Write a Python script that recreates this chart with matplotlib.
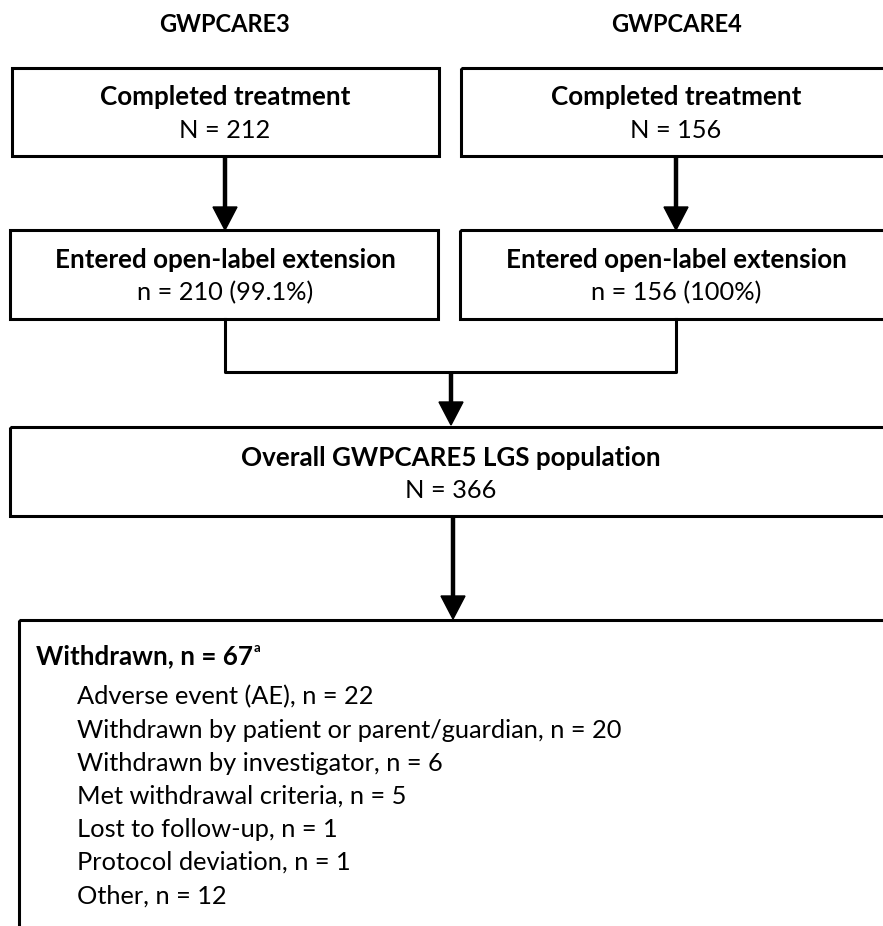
import matplotlib
matplotlib.use("Agg")
import matplotlib.pyplot as plt
from matplotlib.patches import Rectangle, Polygon

# ---- data ----
study_names = ["GWPCARE3", "GWPCARE4"]
completed_n = [212, 156]
entered_n = [210, 156]
entered_pct = ["99.1%", "100%"]
overall_label = "Overall GWPCARE5 LGS population"
overall_n = 366
withdrawn_total = 67
reasons = ["Adverse event (AE)", "Withdrawn by patient or parent/guardian",
           "Withdrawn by investigator", "Met withdrawal criteria",
           "Lost to follow-up", "Protocol deviation", "Other"]
reason_n = [22, 20, 6, 5, 1, 1, 12]

W, H = 883, 926
fig = plt.figure(figsize=(W / 100, H / 100), dpi=100)
ax = fig.add_axes([0, 0, 1, 1])
ax.set_xlim(0, W)
ax.set_ylim(H, 0)
ax.axis("off")

FONT = "Lato"
FSB = 18.7
FS = 18.3
BLW = 2.2

def box(x0, y0, x1, y1):
    ax.add_patch(Rectangle((x0, y0), x1 - x0, y1 - y0, fill=False,
                           edgecolor="black", lw=BLW, clip_on=True))

def arrow(x, y0, y1):
    hl, hw = 23, 12
    ax.plot([x, x], [y0, y1 - hl + 2], color="black", lw=3.2, solid_capstyle="butt")
    ax.add_patch(Polygon([[x - hw, y1 - hl], [x + hw, y1 - hl], [x, y1]],
                         closed=True, color="black"))

cols_x = [225, 676]
box_x = [(12, 439), (461, 900)]
box2_x = [(10, 438), (460, 900)]

for i in range(2):
    cx = cols_x[i]
    ax.text(cx, 24, study_names[i], ha="center", va="center",
            fontsize=17, fontweight="bold", family=FONT)
    box(box_x[i][0], 68, box_x[i][1], 156)
    ax.text(cx, 97, "Completed treatment", ha="center", va="center",
            fontsize=FSB, fontweight="bold", family=FONT)
    ax.text(cx, 130, f"N = {completed_n[i]}", ha="center", va="center",
            fontsize=FS, family=FONT)
    arrow(cx, 156, 230)
    box(box2_x[i][0], 230, box2_x[i][1], 319)
    ax.text(cx, 260, "Entered open-label extension", ha="center", va="center",
            fontsize=FSB, fontweight="bold", family=FONT)
    ax.text(cx, 293, f"n = {entered_n[i]} ({entered_pct[i]})", ha="center",
            va="center", fontsize=FS, family=FONT)

# bracket
ax.plot([cols_x[0], cols_x[0], cols_x[1], cols_x[1]], [319, 372, 372, 319],
        color="black", lw=BLW)
arrow(451, 372, 425)

box(10, 427, 900, 516)
ax.text(451, 458, overall_label, ha="center", va="center",
        fontsize=FSB, fontweight="bold", family=FONT)
ax.text(451, 490, f"N = {overall_n}", ha="center", va="center",
        fontsize=FS, family=FONT)

arrow(453, 516, 619)
box(19, 620, 900, 940)

t = ax.text(36, 656, f"Withdrawn, n = {withdrawn_total}", ha="left", va="center",
            fontsize=FSB, fontweight="bold", family=FONT)
fig.canvas.draw()
bb = t.get_window_extent()
xend = ax.transData.inverted().transform((bb.x1, bb.y0))[0]
ax.text(xend + 1, 648, "a", ha="left", va="center", fontsize=9.5,
        fontweight="bold", family=FONT)

for k, (r, n) in enumerate(zip(reasons, reason_n)):
    ax.text(77, 697 + k * 33.1, f"{r}, n = {n}", ha="left", va="center",
            fontsize=FS, family=FONT)

fig.savefig("out.png", dpi=100, facecolor="white")
